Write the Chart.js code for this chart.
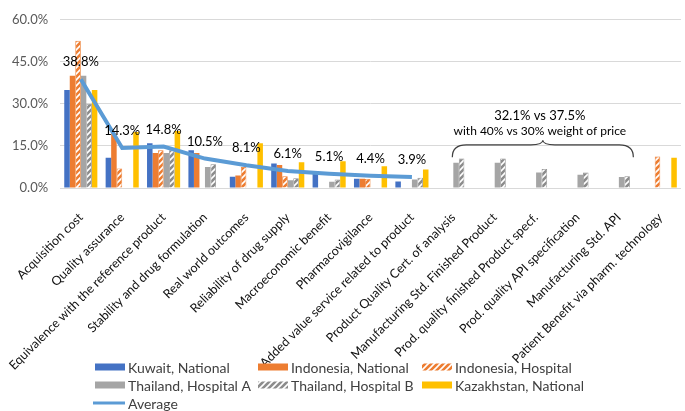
<!DOCTYPE html>
<html>
<head>
<meta charset="utf-8">
<script src="https://cdn.jsdelivr.net/npm/chart.js@4"></script>
<style>
    html, body { margin: 0; padding: 0; background: #fff; }
    #wrap { position: relative; width: 685px; height: 411px; }
</style>
</head>
<body>
<div id="wrap"><canvas id="mainChart"></canvas></div>
<script>
var fontFamily = "Lato";

var categories = [
    "Acquisition cost",
    "Quality assurance",
    "Equivalence with the reference product",
    "Stability and drug formulation",
    "Real world outcomes",
    "Reliability of drug supply",
    "Macroeconomic benefit",
    "Pharmacovigilance",
    "Added value service related to product",
    "Product Quality Cert. of analysis",
    "Manufacturing Std. Finished Product",
    "Prod. quality finished Product specf.",
    "Prod. quality API specification",
    "Manufacturing Std. API",
    "Patient Benefit via pharm. technology",
];

var kuwaitNational = [35, 10.8, 16, 13.5, 4, 8.7, 5.5, 3.3, 2.3, null, null, null, null, null, null];
var indonesiaNational = [40, 19.4, 12.5, 12.5, 4.5, 8.2, null, 3.3, null, null, null, null, null, null, null];
var indonesiaHospital = [52.5, 7, 13.5, null, 7.5, 4.2, null, 3.2, null, null, null, null, null, null, 11.2];
var thailandHospitalA = [40, null, 12.5, 7.5, null, 2.8, 2.2, null, 3, 9, 9, 5.5, 4.7, 3.9, null];
var thailandHospitalB = [30, null, 13.5, 8.5, null, 3.5, 3, null, 3.7, 10.5, 10.5, 6.8, 5.5, 4.2, null];
var kazakhstanNational = [35, 20, 20.3, null, 16, 9.2, 9.5, 7.8, 6.6, null, null, null, null, null, 10.8];
var average = [38.8, 14.3, 14.8, 10.5, 8.1, 6.1, 5.1, 4.4, 3.9, null, null, null, null, null, null];

var yTicks = [0, 15, 30, 45, 60];
var noteLine1 = "32.1% vs 37.5%";
var noteLine2 = "with 40% vs 30% weight of price";

// diagonal hatch like excel "wide upward diagonal"
function makeHatch(ctx, color) {
    var c = document.createElement("canvas");
    c.width = 6;
    c.height = 6;
    var p = c.getContext("2d");
    p.fillStyle = color;
    p.fillRect(0, 0, 6, 6);
    p.strokeStyle = "#fff";
    p.lineWidth = 1.6;
    p.beginPath();
    p.moveTo(-1, 7); p.lineTo(7, -1);
    p.moveTo(-4, 4); p.lineTo(4, -4);
    p.moveTo(2, 10); p.lineTo(10, 2);
    p.stroke();
    return ctx.createPattern(c, "repeat");
}

var canvas = document.getElementById("mainChart");
var ctx = canvas.getContext("2d");
var orangeHatch = makeHatch(ctx, "#ED7D31");
var grayHatch = makeHatch(ctx, "#8C8C8C");

// labels above average line
var avgLabels = {
    id: "avgLabels",
    afterDatasetsDraw: function (chart) {
        var meta = chart.getDatasetMeta(6);
        var c = chart.ctx;
        c.save();
        c.font = "13px " + fontFamily;
        c.fillStyle = "#000";
        c.textAlign = "center";
        c.textBaseline = "middle";
        meta.data.forEach(function (pt, i) {
            if (average[i] == null) return;
            c.fillText(average[i].toFixed(1) + "%", pt.x, pt.y - 17);
        });
        c.restore();
    },
};

// brace + note over the thailand-only criteria
var bracePlugin = {
    id: "bracePlugin",
    afterDraw: function (chart) {
        var x = chart.scales.x;
        var y = chart.scales.y;
        var c = chart.ctx;
        var step = x.getPixelForValue(1) - x.getPixelForValue(0);
        var x1 = x.getPixelForValue(9) - 1;
        var x2 = x.getPixelForValue(13) + step * 0.35;
        var xm = (x1 + x2) / 2;
        var yEnd = y.getPixelForValue(11);
        var yMid = y.getPixelForValue(15.4);
        var yTip = y.getPixelForValue(17);
        c.save();
        c.strokeStyle = "#404040";
        c.lineWidth = 1.2;
        c.beginPath();
        c.moveTo(x1, yEnd);
        c.quadraticCurveTo(x1, yMid, x1 + 14, yMid);
        c.lineTo(xm - 12, yMid);
        c.quadraticCurveTo(xm, yMid, xm, yTip);
        c.quadraticCurveTo(xm, yMid, xm + 12, yMid);
        c.lineTo(x2 - 14, yMid);
        c.quadraticCurveTo(x2, yMid, x2, yEnd);
        c.stroke();
        c.fillStyle = "#000";
        c.textAlign = "center";
        c.textBaseline = "middle";
        c.font = "13px " + fontFamily;
        c.fillText(noteLine1, xm - 3, y.getPixelForValue(25.8));
        c.font = "12px " + fontFamily;
        c.fillText(noteLine2, xm - 3, y.getPixelForValue(20.4));
        c.restore();
    },
};

// legend in 3 columns under the axis labels
var legendGrid = {
    id: "legendGrid",
    afterDraw: function (chart) {
        var c = chart.ctx;
        var cols = [95, 258, 422];
        var rows = [367, 385, 403];
        c.save();
        c.font = "14px " + fontFamily;
        c.fillStyle = "#404040";
        c.textBaseline = "middle";
        chart.data.datasets.forEach(function (ds, i) {
            var bx = cols[i % 3];
            var by = rows[Math.floor(i / 3)];
            if (ds.type === "line") {
                c.strokeStyle = ds.borderColor;
                c.lineWidth = 3;
                c.beginPath();
                c.moveTo(bx - 2, by);
                c.lineTo(bx + 30, by);
                c.stroke();
            } else {
                c.fillStyle = ds.backgroundColor;
                c.fillRect(bx, by - 3.5, 30, 7);
                c.fillStyle = "#404040";
            }
            c.fillText(ds.label, bx + 33, by + 1);
        });
        c.restore();
    },
};

function barSet(label, data, bg, border) {
    return {
        type: "bar",
        label: label,
        data: data,
        backgroundColor: bg,
        borderColor: border,
        borderWidth: border ? 0.8 : 0,
        order: 1,
    };
}

var config_main = {
    type: "bar",
    data: {
        labels: categories,
        datasets: [
            barSet("Kuwait, National", kuwaitNational, "#4472C4"),
            barSet("Indonesia, National", indonesiaNational, "#ED7D31"),
            barSet("Indonesia, Hospital", indonesiaHospital, orangeHatch, "#ED7D31"),
            barSet("Thailand, Hospital A", thailandHospitalA, "#A5A5A5"),
            barSet("Thailand, Hospital B", thailandHospitalB, grayHatch, "#8C8C8C"),
            barSet("Kazakhstan, National", kazakhstanNational, "#FFC000"),
            {
                type: "line",
                label: "Average",
                data: average,
                borderColor: "#5B9BD5",
                backgroundColor: "#5B9BD5",
                borderWidth: 4,
                pointRadius: 0,
                tension: 0,
                spanGaps: false,
                order: 0,
            },
        ],
    },
    options: {
        responsive: true,
        maintainAspectRatio: false,
        animation: false,
        categoryPercentage: 0.8,
        barPercentage: 1,
        layout: {
            padding: { top: 4, right: 4, left: 0, bottom: 0 },
        },
        scales: {
            x: {
                grid: { display: false },
                border: { display: true, color: "#d9d9d9" },
                afterFit: function (axis) {
                    // labels + legend share this band
                    axis.height = 223;
                },
                ticks: {
                    autoSkip: false,
                    maxRotation: 45,
                    minRotation: 45,
                    color: "#111",
                    padding: 14,
                    font: { family: fontFamily, size: 12.5 },
                },
            },
            y: {
                min: 0,
                max: 60,
                afterBuildTicks: function (axis) {
                    axis.ticks = yTicks.map(function (v) { return { value: v }; });
                },
                grid: { color: "#d9d9d9", drawTicks: false },
                border: { display: false },
                ticks: {
                    color: "#595959",
                    padding: 12,
                    font: { family: fontFamily, size: 13 },
                    callback: function (v) { return v.toFixed(1) + "%"; },
                },
            },
        },
        plugins: {
            legend: { display: false },
            tooltip: { enabled: false },
        },
    },
    plugins: [avgLabels, bracePlugin, legendGrid],
};

var mainChart = new Chart(canvas, config_main);
</script>
</body>
</html>
